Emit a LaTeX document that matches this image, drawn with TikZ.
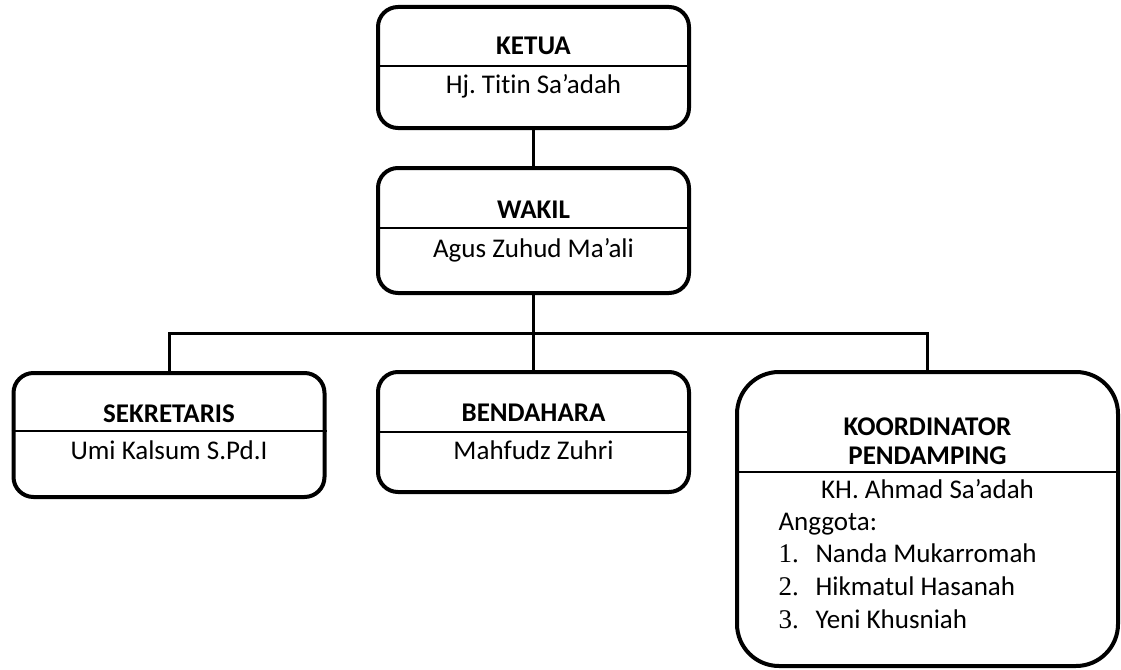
\documentclass[tikz,border=0pt]{standalone}
\usepackage{fontspec}
\setmainfont{Carlito}[Ligatures={TeX,NoCommon}]
\newfontfamily\numfont{Liberation Serif}
\usetikzlibrary{calc}
\frenchspacing

\newcommand{\teksbesar}{\fontsize{27}{32}\selectfont}

\tikzset{
  unitbox/.style={draw, line width=4pt, rounded corners=20pt, inner sep=0pt},
  divline/.style={line width=2pt},
  link/.style={line width=3pt},
  jabatan/.style={anchor=base, font=\teksbesar\bfseries},
  nama/.style={anchor=base, font=\teksbesar},
}

\begin{document}
\begin{tikzpicture}[x=1pt, y=-1pt]
\useasboundingbox (0,0) rectangle (1121,669);

% kotak
\node[unitbox, minimum width=311pt, minimum height=121pt] (ketua) at (533.5,67.5) {};
\node[unitbox, minimum width=311pt, minimum height=125pt] (wakil) at (533.5,230.5) {};
\node[unitbox, minimum width=311pt, minimum height=124pt] (sekretaris) at (169,435) {};
\node[unitbox, minimum width=311pt, minimum height=120pt] (bendahara) at (533.5,432) {};
\node[unitbox, rounded corners=42pt, minimum width=381pt, minimum height=294pt] (koordinator) at (927.5,519) {};

% garis pemisah
\draw[divline] (ketua.west |- 0,66) -- (ketua.east |- 0,66);
\draw[divline] (wakil.west |- 0,228) -- (wakil.east |- 0,228);
\draw[divline] (sekretaris.west |- 0,431) -- (sekretaris.east |- 0,431);
\draw[divline] (bendahara.west |- 0,432) -- (bendahara.east |- 0,432);
\draw[divline] (koordinator.west |- 0,472) -- (koordinator.east |- 0,472);

% teks
\node[jabatan] (ketuaJ) at (533.5,55) {KETUA};
\node[nama] (ketuaN) at (533.5,93) {Hj. Titin Sa’adah};
\node[jabatan] (wakilJ) at (533.5,218) {WAKIL};
\node[nama] (wakilN) at (533.5,257) {Agus Zuhud Ma’ali};
\node[jabatan] (sekretarisJ) at (169,422) {SEKRETARIS};
\node[nama] (sekretarisN) at (169,459) {Umi Kalsum S.Pd.I};
\node[jabatan] (bendaharaJ) at (533.5,421) {BENDAHARA};
\node[nama] (bendaharaN) at (533.5,459) {Mahfudz Zuhri};
\node[jabatan] (koordinatorJ) at (927.5,435) {KOORDINATOR};
\node[jabatan] (pendampingJ) at (927.5,464) {PENDAMPING};
\node[nama] (koordinatorN) at (927.5,498) {KH. Ahmad Sa’adah};
\node[nama, anchor=base west] (anggota) at (775,530) {Anggota:};
\foreach \i/\nm in {1/Nanda Mukarromah, 2/Hikmatul Hasanah, 3/Yeni Khusniah}
  \node[nama, anchor=base west] (anggota\i) at (775,530+\i*32.7) {\makebox[37pt][l]{\numfont\i.}\nm};

% garis penghubung
\coordinate (bus) at (533.5,333);
\draw[link] (ketua) -- (wakil);
\draw[link] (wakil.south) -- (bus);
\draw[link] (bus) -- (bendahara.north);
\draw[link] (sekretaris.north) |- (bus) -| (koordinator.north);
\end{tikzpicture}
\end{document}
